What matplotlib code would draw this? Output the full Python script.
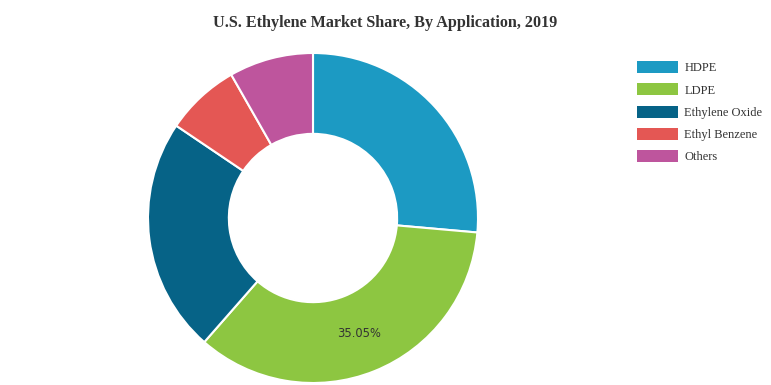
import matplotlib
matplotlib.use("Agg")
from matplotlib import pyplot as plt
from matplotlib.patches import Patch
import numpy as np

# market share by application (%)
labels = ["HDPE", "LDPE", "Ethylene Oxide", "Ethyl Benzene", "Others"]
shares = [26.4, 35.05, 23.0, 7.3, 8.25]
colors = ["#1c9ac3", "#8dc641", "#066387", "#e45754", "#be559d"]
shown = [False, True, False, False, False]  # only LDPE label is printed

fig = plt.figure(figsize=(7.71, 3.85), dpi=100)
ax = fig.add_axes([148 / 771, 2 / 385, 330 / 771, 330 / 385])

wedges, _ = ax.pie(shares, colors=colors, startangle=90, counterclock=False,
                   radius=1.0,
                   wedgeprops=dict(width=0.49, edgecolor="white", linewidth=1.5))
ax.set_xlim(-1, 1)
ax.set_ylim(-1, 1)
ax.set_aspect("equal")

# label in the middle of the ring
tot = sum(shares)
start = 90.0
for val, show in zip(shares, shown):
    ang = start - val / tot * 360 / 2
    if show:
        r = 1 - 0.49 / 2
        ax.text(r * np.cos(np.radians(ang)), r * np.sin(np.radians(ang)),
                "%.2f%%" % val, ha="center", va="center",
                fontsize=8.3, color="#333333", family="DejaVu Sans")
    start -= val / tot * 360

fig.text(385 / 771, 1 - 23 / 385, "U.S. Ethylene Market Share, By Application, 2019",
         ha="center", va="center", fontsize=11.6, fontweight="bold",
         family="Liberation Serif", color="#333333")

handles = [Patch(facecolor=c, edgecolor="none") for c in colors]
fig.legend(handles, labels, loc="upper left",
           bbox_to_anchor=(627 / 771, 1 - 51 / 385),
           frameon=False, prop=dict(family="Liberation Serif", size=9),
           handlelength=3.3, handleheight=1.1, labelspacing=0.72,
           handletextpad=0.5, borderpad=0.3, labelcolor="#333333")

fig.savefig("out.png", dpi=100)
